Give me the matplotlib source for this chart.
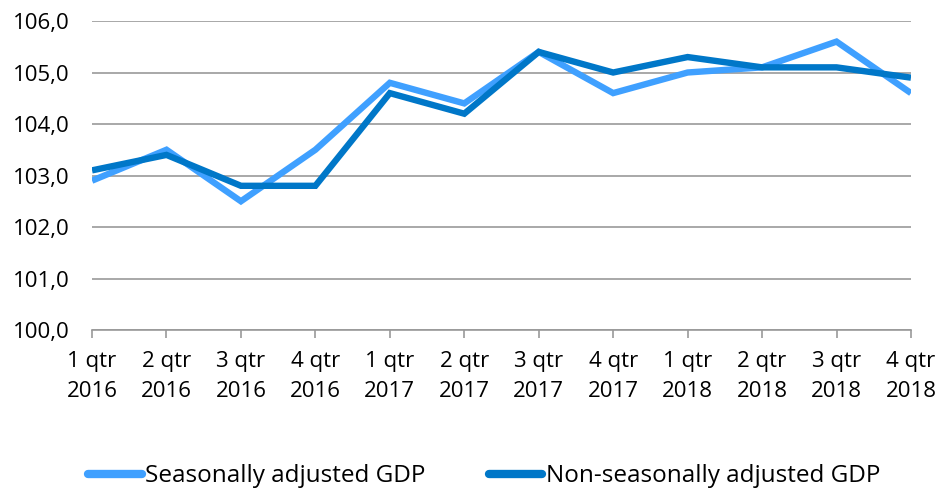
import matplotlib
matplotlib.use("Agg")
import matplotlib.pyplot as plt

quarters = ["1 qtr\n2016", "2 qtr\n2016", "3 qtr\n2016", "4 qtr\n2016",
            "1 qtr\n2017", "2 qtr\n2017", "3 qtr\n2017", "4 qtr\n2017",
            "1 qtr\n2018", "2 qtr\n2018", "3 qtr\n2018", "4 qtr\n2018"]
seasonally_adj = [102.9, 103.5, 102.5, 103.5, 104.8, 104.4, 105.4, 104.6, 105.0, 105.1, 105.6, 104.6]
non_seasonally_adj = [103.1, 103.4, 102.8, 102.8, 104.6, 104.2, 105.4, 105.0, 105.3, 105.1, 105.1, 104.9]
yticks = [100, 101, 102, 103, 104, 105, 106]

plt.rcParams['font.family'] = ['Open Sans', 'DejaVu Sans']

fig = plt.figure(figsize=(9.44, 4.93), dpi=100)
ax = fig.add_axes([0.0975, 0.3306, 0.8675, 0.6268])

x = list(range(len(quarters)))
ax.plot(x, seasonally_adj, color="#3FA0FF", lw=4.6, label="Seasonally adjusted GDP",
        solid_joinstyle="miter", solid_capstyle="butt")
ax.plot(x, non_seasonally_adj, color="#0077C8", lw=4.6, label="Non-seasonally adjusted GDP",
        solid_joinstyle="miter", solid_capstyle="butt")

ax.set_xlim(0, len(quarters) - 1)
ax.set_ylim(100, 106)
ax.set_yticks(yticks)
ax.set_yticklabels([f"{v:.1f}".replace(".", ",") for v in yticks], fontsize=16)
ax.set_xticks(x)
ax.set_xticklabels(quarters, fontsize=16, linespacing=1.55)
ax.yaxis.grid(True, color="#999999", lw=1.2)
ax.set_axisbelow(True)
for s in ["top", "right", "left"]:
    ax.spines[s].set_visible(False)
ax.spines["bottom"].set_color("#999999")
ax.spines["bottom"].set_linewidth(1.2)
ax.tick_params(axis="y", length=0, pad=16)
ax.tick_params(axis="x", length=6, width=1.2, color="#999999", pad=9)

leg = fig.legend(loc="lower center", bbox_to_anchor=(0.513, -0.035), ncol=2, frameon=False,
                 fontsize=17.5, handlelength=2.2, handletextpad=0.15, columnspacing=2.6)
for h in leg.get_lines():
    h.set_linewidth(6)
    h.set_solid_capstyle("round")

fig.savefig("out.png", dpi=100)
